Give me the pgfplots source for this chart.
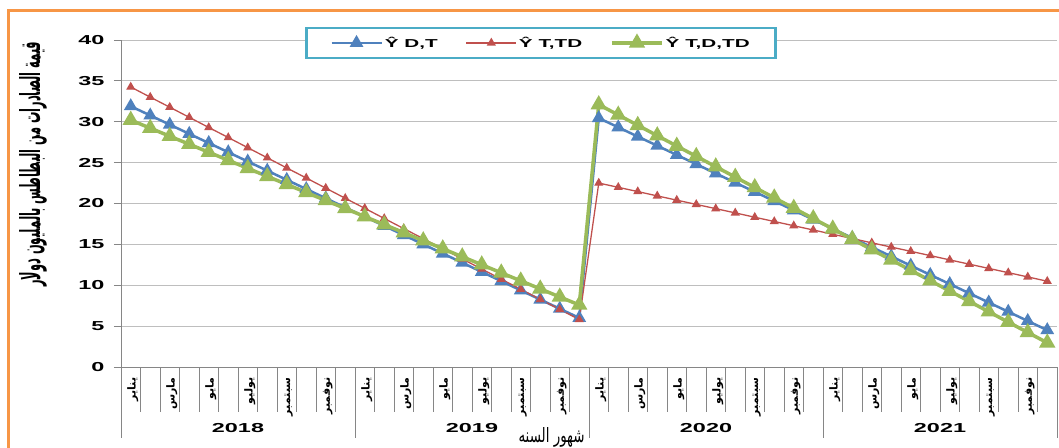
\documentclass[border=0pt]{standalone}
\usepackage{fontspec}
\setmainfont{Liberation Sans}
\newfontfamily\widefont[FakeStretch=1.8]{Liberation Sans}
\newfontfamily\arabicfont[Script=Arabic]{DejaVu Sans}
\usepackage{pgfplots}
\usepackage{pgfplotstable}
\pgfplotsset{compat=1.18}
\TeXXeTstate=1
\newcommand\ar[1]{{\arabicfont\bfseries\beginR #1\endR}}
\definecolor{cblue}{RGB}{79,129,189}
\definecolor{cred}{RGB}{192,80,77}
\definecolor{cgreen}{RGB}{155,187,89}
\definecolor{corange}{RGB}{247,150,70}
\definecolor{clegend}{RGB}{75,172,198}
\definecolor{caxis}{RGB}{134,134,134}
\definecolor{cgrid}{RGB}{190,190,190}

\pgfplotstableread{
k blue red green
0 31.90 34.25 30.20
1 30.77 33.01 29.22
2 29.65 31.78 28.23
3 28.52 30.54 27.25
4 27.40 29.30 26.27
5 26.27 28.07 25.29
6 25.14 26.83 24.30
7 24.02 25.59 23.32
8 22.89 24.35 22.34
9 21.77 23.12 21.35
10 20.64 21.88 20.37
11 19.51 20.64 19.39
12 18.39 19.41 18.40
13 17.26 18.17 17.42
14 16.14 16.93 16.44
15 15.01 15.70 15.46
16 13.88 14.46 14.47
17 12.76 13.22 13.49
18 11.63 11.98 12.51
19 10.51 10.75 11.52
20 9.38 9.51 10.54
21 8.25 8.27 9.56
22 7.13 7.04 8.57
23 6.00 5.80 7.59
24 30.45 22.50 32.10
25 29.32 21.98 30.83
26 28.19 21.46 29.57
27 27.07 20.93 28.30
28 25.94 20.41 27.03
29 24.81 19.89 25.77
30 23.68 19.37 24.50
31 22.55 18.85 23.23
32 21.43 18.32 21.96
33 20.30 17.80 20.70
34 19.17 17.28 19.43
35 18.04 16.76 18.16
36 16.91 16.24 16.90
37 15.79 15.71 15.63
38 14.66 15.19 14.36
39 13.53 14.67 13.10
40 12.40 14.15 11.83
41 11.27 13.63 10.56
42 10.15 13.10 9.29
43 9.02 12.58 8.03
44 7.89 12.06 6.76
45 6.76 11.54 5.49
46 5.63 11.02 4.23
47 4.51 10.49 2.96
}\data

\begin{document}
\begin{tikzpicture}
\useasboundingbox (0,0) rectangle (1059pt,447pt);
\fill[white] (0,0) rectangle (1059pt,447pt);
\draw[corange, line width=3pt] (8pt,-10pt) rectangle (1075pt,436pt);
\begin{axis}[
  at={(121pt,80pt)}, anchor=south west,
  scale only axis, width=936pt, height=327pt,
  xmin=-0.5, xmax=47.5, ymin=0, ymax=40,
  clip=false,
  axis lines*=left,
  axis line style={caxis, line width=0.8pt},
  ytick={0,5,...,40},
  ymajorgrids, grid style={cgrid, line width=0.8pt},
  tick align=outside, major tick length=7pt,
  ytick style={caxis, line width=0.8pt},
  x tick style={draw=none},
  /pgf/number format/assume math mode=true,
  yticklabel style={font=\widefont\bfseries\fontsize{13}{13}\selectfont, xshift=-6pt},
  xtick={0,2,...,46},
  xticklabels={\ar{يناير},\ar{مارس},\ar{مايو},\ar{يوليو},\ar{سبتمبر},\ar{نوفمبر},
               \ar{يناير},\ar{مارس},\ar{مايو},\ar{يوليو},\ar{سبتمبر},\ar{نوفمبر},
               \ar{يناير},\ar{مارس},\ar{مايو},\ar{يوليو},\ar{سبتمبر},\ar{نوفمبر},
               \ar{يناير},\ar{مارس},\ar{مايو},\ar{يوليو},\ar{سبتمبر},\ar{نوفمبر}},
  xticklabel style={rotate=90, anchor=east, font=\fontsize{11}{11}\selectfont, yshift=-2pt},
  ylabel={\resizebox{245pt}{21pt}{\arabicfont\bfseries\beginR قيمة الصادرات من البطاطس بالمليون دولار\endR}},
  every axis y label/.style={at={(rel axis cs:-0.094,0.62)}, rotate=90, anchor=center},
  xlabel={\resizebox{66pt}{15pt}{\arabicfont\beginR شهور السنه\endR}},
  every axis x label/.style={at={(rel axis cs:0.46,0)}, yshift=-70pt, anchor=center},
  legend columns=3,
  legend style={at={(rel axis cs:0.4487,0.991)}, anchor=center, draw=clegend, line width=2.5pt,
    fill=white, font=\widefont\bfseries\fontsize{11.5}{11.5}\selectfont,
    inner xsep=24pt, inner ysep=7pt,
    /tikz/every even column/.append style={column sep=26pt}},
  legend image code/.code={\draw[mark repeat=2,mark phase=2,#1] plot coordinates {(0pt,0pt) (25pt,0pt) (50pt,0pt)};},
]
\addplot[cblue, line width=2.5pt, mark=triangle*, mark size=5.5pt, mark options={solid, fill=cblue}] table[x=k, y=blue] {\data};
\addlegendentry{Ŷ D,T}
\addplot[cred, line width=1.3pt, mark=triangle*, mark size=4pt, mark options={solid, fill=cred}] table[x=k, y=red] {\data};
\addlegendentry{Ŷ T,TD}
\addplot[cgreen, line width=3.5pt, mark=triangle*, mark size=6pt, mark options={solid, fill=cgreen}] table[x=k, y=green] {\data};
\addlegendentry{Ŷ T,D,TD}
\pgfplotsinvokeforeach{-0.5,0.5,...,47.5}{\draw[caxis, line width=0.8pt] (axis cs:#1,0) -- ++(0pt,-45pt);}
\pgfplotsinvokeforeach{-0.5,11.5,23.5,35.5,47.5}{\draw[caxis, line width=0.8pt] (axis cs:#1,0) -- ++(0pt,-71pt);}
\node[font=\widefont\bfseries\fontsize{13}{13}\selectfont] at (axis cs:5.5,0) [yshift=-61pt] {2018};
\node[font=\widefont\bfseries\fontsize{13}{13}\selectfont] at (axis cs:17.5,0) [yshift=-61pt] {2019};
\node[font=\widefont\bfseries\fontsize{13}{13}\selectfont] at (axis cs:29.5,0) [yshift=-61pt] {2020};
\node[font=\widefont\bfseries\fontsize{13}{13}\selectfont] at (axis cs:41.5,0) [yshift=-61pt] {2021};
\end{axis}
\end{tikzpicture}
\end{document}
